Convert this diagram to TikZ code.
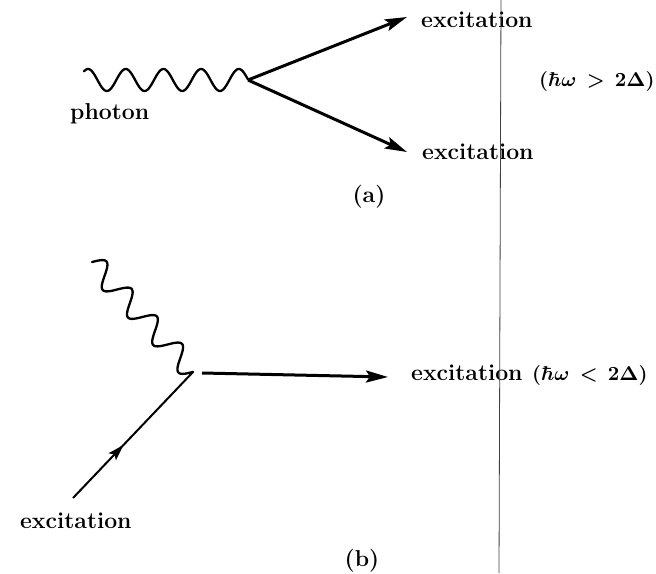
\documentclass[tikz,border=0pt]{standalone}
\usetikzlibrary{arrows.meta,decorations.markings}
\begin{document}
\begin{tikzpicture}[x=1pt,y=-1pt,
  lbl/.style={font=\fontsize{23}{27}\selectfont\bfseries, inner sep=0pt},
  mlbl/.style={inner sep=0pt},
  arr/.style={line width=3pt, -{Stealth[length=22pt,width=12pt,inset=4pt]}},
  wave/.style={line width=2.3pt, line cap=round, line join=round},
  thinline/.style={line width=2pt},
  midarrow/.style={postaction={decorate}, decoration={markings,
     mark=at position 0.42 with {\arrow{Stealth[length=16pt,width=10pt,inset=3pt]}}}},
  fold/.style={line width=0.8pt, draw=black!75}
]
\useasboundingbox (0,0) rectangle (656,573);
\fill[white] (0,0) rectangle (656,573);

% ---- (a) ----
\coordinate (wa) at (84,80);
\coordinate (va) at (248,80);
\coordinate (ta1) at (407,17);
\coordinate (ta2) at (407,152);
\draw[wave] (wa) plot[domain=84:248, samples=200, smooth]
   (\x, {80 - 11*sin((\x-78.6)/37.7*360)});
\draw[arr] (va) -- (ta1);
\draw[arr] (va) -- (ta2);
\node[lbl, anchor=base west] (ex1) at (421,27) {excitation};
\node[lbl, anchor=base west] (ex2) at (422,159) {excitation};
\node[lbl, anchor=base west] (ph) at (70,119) {photon};
\node[mlbl, anchor=base west] (ca) at (539,86) {\scalebox{2}{\boldmath$(\hbar\omega\,>\,2\Delta)$}};
\node[lbl] (la) at (369,197) {(a)};

% ---- (b) ----
\coordinate (wb) at (92,262);
\coordinate (vb) at (193,372);
\coordinate (hb) at (202,373);
\coordinate (tb) at (388,377);
\coordinate (lb) at (73,498);
\draw[wave] (wb) plot[domain=0:149.3, samples=240, smooth]
   ({92+0.676*\x+11*0.737*sin(\x/37.3*360)}, {262+0.737*\x-11*0.676*sin(\x/37.3*360)});
\draw[arr] (hb) -- (tb);
\draw[thinline, midarrow] (lb) -- (vb);
\node[lbl, anchor=base west] (ex3) at (411,380) {excitation};
\node[mlbl, anchor=base west] (cb) at (532,380) {\scalebox{2}{\boldmath$(\hbar\omega\,<\,2\Delta)$}};
\node[lbl, anchor=base west] (ex4) at (20,528) {excitation};
\node[lbl] (lbb) at (362,561) {(b)};

% ---- page fold line ----
\coordinate (f1) at (501,0);
\coordinate (f2) at (499,573);
\draw[fold] (f1) -- (f2);
\end{tikzpicture}
\end{document}
